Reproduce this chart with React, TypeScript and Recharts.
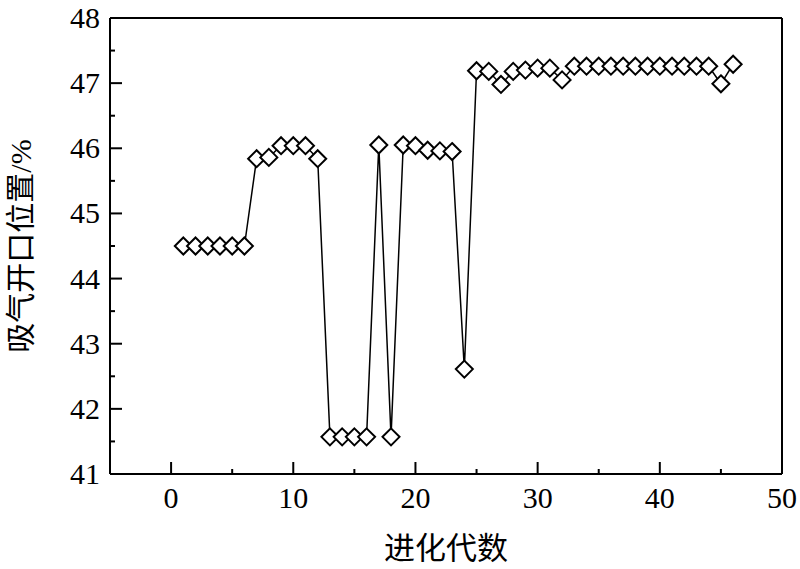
import React from 'react';
import { LineChart, Line, XAxis, YAxis, ReferenceLine, Label } from 'recharts';

const generations = [
  1, 2, 3, 4, 5, 6, 7, 8, 9, 10, 11, 12, 13, 14, 15, 16, 17, 18, 19, 20, 21, 22, 23,
  24, 25, 26, 27, 28, 29, 30, 31, 32, 33, 34, 35, 36, 37, 38, 39, 40, 41, 42, 43, 44, 45, 46,
];
const intakePosition = [
  44.5, 44.5, 44.5, 44.5, 44.5, 44.5, 45.84, 45.86, 46.04, 46.04, 46.04, 45.84,
  41.57, 41.57, 41.57, 41.57, 46.05, 41.57, 46.05, 46.04, 45.97, 45.96, 45.95, 42.61,
  47.19, 47.18, 46.98, 47.18, 47.2, 47.23, 47.23, 47.05, 47.26, 47.26, 47.26, 47.26,
  47.26, 47.26, 47.26, 47.26, 47.26, 47.26, 47.26, 47.26, 46.99, 47.29,
];
const xTicks = [0, 5, 10, 15, 20, 25, 30, 35, 40, 45, 50];
const yTicks = [41, 41.5, 42, 42.5, 43, 43.5, 44, 44.5, 45, 45.5, 46, 46.5, 47, 47.5, 48];
const xTitle = '进化代数';
const yTitle = '吸气开口位置/%';

const data = generations.map((g, i) => ({ gen: g, value: intakePosition[i] }));

const NUM_FONT = 'Liberation Serif';
const CJK_FONT = "'Liberation Serif', 'Noto Sans CJK SC'";

const Diamond = (props: any) => {
  const { cx, cy, index } = props;
  if (cx == null || cy == null) return <g key={index} />;
  const r = 8.5;
  return (
    <path
      key={index}
      d={`M${cx},${cy - r}L${cx + r},${cy}L${cx},${cy + r}L${cx - r},${cy}Z`}
      fill="#fff"
      stroke="#000"
      strokeWidth={2}
    />
  );
};

const XTick = (props: any) => {
  const { x, y, payload } = props;
  const v = payload.value;
  const major = v % 10 === 0;
  return (
    <g>
      <line x1={x} x2={x} y1={y} y2={y - (major ? 12 : 5)} stroke="#000" strokeWidth={2} />
      {major && (
        <text x={x} y={y + 34} textAnchor="middle" fontFamily={NUM_FONT} fontSize={30} fill="#000">
          {v}
        </text>
      )}
    </g>
  );
};

const YTick = (props: any) => {
  const { x, y, payload } = props;
  const v = payload.value;
  const major = Number.isInteger(v);
  return (
    <g>
      <line x1={x} x2={x + (major ? 12 : 5)} y1={y} y2={y} stroke="#000" strokeWidth={2} />
      {major && (
        <text x={x - 10} y={y + 10} textAnchor="end" fontFamily={NUM_FONT} fontSize={30} fill="#000">
          {v}
        </text>
      )}
    </g>
  );
};

const XTitle = (props: any) => {
  const vb = props.viewBox || {};
  return (
    <text x={vb.x + vb.width / 2} y={vb.y + 85} textAnchor="middle" fontFamily={CJK_FONT} fontSize={31} fill="#000">
      {xTitle}
    </text>
  );
};

const YTitle = (props: any) => {
  const vb = props.viewBox || {};
  const cx = 20;
  const cy = vb.y + vb.height / 2;
  return (
    <text
      x={cx}
      y={cy}
      textAnchor="middle"
      dominantBaseline="central"
      transform={`rotate(-90, ${cx}, ${cy})`}
      fontFamily={CJK_FONT}
      fontSize={30}
      fill="#000"
    >
      {yTitle}
    </text>
  );
};

export default function App() {
  return (
    <div style={{ position: 'absolute', left: 0, top: 0, background: '#fff' }}>
      <LineChart width={800} height={569} data={data} margin={{ top: 18, right: 18, left: 0, bottom: 0 }}>
        <XAxis
          dataKey="gen"
          type="number"
          domain={[-5, 50]}
          ticks={xTicks}
          interval={0}
          height={95}
          tickSize={0}
          tickMargin={0}
          tickLine={false}
          axisLine={{ stroke: '#000', strokeWidth: 2 }}
          tick={<XTick />}
          allowDataOverflow
        >
          <Label content={<XTitle />} />
        </XAxis>
        <YAxis
          type="number"
          domain={[41, 48]}
          ticks={yTicks}
          interval={0}
          width={110}
          tickSize={0}
          tickMargin={0}
          tickLine={false}
          axisLine={{ stroke: '#000', strokeWidth: 2 }}
          tick={<YTick />}
          allowDataOverflow
        >
          <Label content={<YTitle />} />
        </YAxis>
        <ReferenceLine y={48} stroke="#000" strokeWidth={2} />
        <ReferenceLine x={50} stroke="#000" strokeWidth={2} />
        <Line
          type="linear"
          dataKey="value"
          stroke="#000"
          strokeWidth={1.5}
          dot={Diamond}
          activeDot={false}
          isAnimationActive={false}
        />
      </LineChart>
    </div>
  );
}
